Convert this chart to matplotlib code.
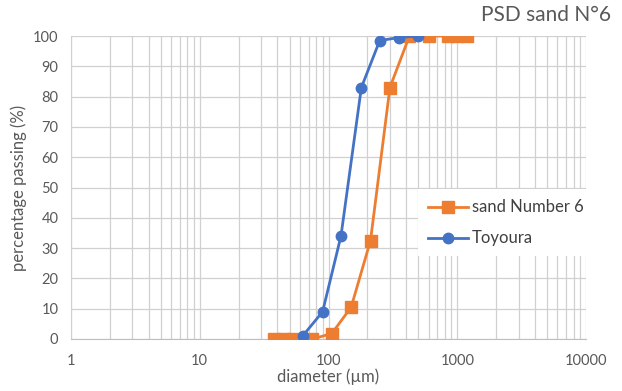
import matplotlib
matplotlib.use("Agg")
import matplotlib.pyplot as plt
from matplotlib.ticker import FixedLocator, LogLocator, NullFormatter

plt.rcParams['font.family'] = ['Lato', 'DejaVu Sans']

sand6_d = [38, 45, 53, 75, 106, 150, 212, 300, 425, 600, 850, 1000, 1180]
sand6_p = [0, 0, 0, 0, 1.8, 10.5, 32.5, 83, 100, 100, 100, 100, 100]
toy_d = [63, 90, 125, 180, 250, 355, 500]
toy_p = [1, 9, 34, 83, 98.5, 99.5, 100]
xticks = [1, 10, 100, 1000, 10000]
xlabels = ["1", "10", "100", "1000", "10000"]
yticks = list(range(0, 101, 10))

gray = '#595959'
grid = '#d0d0d0'

fig = plt.figure(figsize=(6.22, 3.91), dpi=100)
ax = fig.add_axes([71/622, 1-339/391, (586-71)/622, (339-36)/391])
ax.plot(sand6_d, sand6_p, color='#ED7D31', lw=2.0, marker='s', ms=8,
        label='sand Number 6', zorder=3)
ax.plot(toy_d, toy_p, color='#4472C4', lw=2.0, marker='o', ms=7.5,
        label='Toyoura', zorder=4)
ax.set_xscale('log')
ax.set_xlim(1, 10000)
ax.set_ylim(0, 100)
ax.xaxis.set_major_locator(FixedLocator(xticks))
ax.set_xticklabels(xlabels)
ax.xaxis.set_minor_locator(LogLocator(base=10, subs=range(2, 10)))
ax.xaxis.set_minor_formatter(NullFormatter())
ax.set_yticks(yticks)
ax.grid(True, which='both', axis='x', color=grid, lw=0.9)
ax.grid(True, which='major', axis='y', color=grid, lw=0.9)
ax.set_axisbelow(True)
for s in ['top', 'right']:
    ax.spines[s].set_visible(False)
ax.spines['left'].set_color(grid)
ax.spines['bottom'].set_color('#bfbfbf')
ax.tick_params(which='both', length=0, colors=gray, labelsize=10.5)
ax.tick_params(axis='x', pad=11)
ax.tick_params(axis='y', pad=9)
ax.set_xlabel('diameter (µm)', color=gray, fontsize=12, labelpad=0)
ax.set_ylabel('percentage passing (%)', color=gray, fontsize=12, labelpad=4)

fig.text(0.982, 0.962, 'PSD sand N°6', ha='right', va='center', color=gray, fontsize=15)

leg = ax.legend(loc='upper left', bbox_to_anchor=(410/622, 1-181/391),
                bbox_transform=fig.transFigure, frameon=True, fancybox=False,
                edgecolor='none', facecolor='white', framealpha=1,
                fontsize=12, labelspacing=0.9, handlelength=2.4,
                handletextpad=0.2, borderpad=0.6)
for t in leg.get_texts():
    t.set_color('#404040')

fig.savefig('out.png', dpi=100)
